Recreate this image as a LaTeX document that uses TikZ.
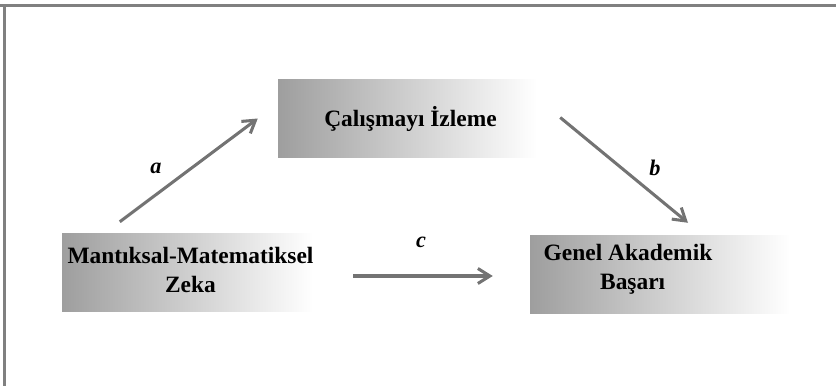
\documentclass[tikz,border=0pt]{standalone}
\usepackage{fontspec}
\setmainfont{Liberation Serif}
\usetikzlibrary{arrows.meta,calc}

\begin{document}
\begin{tikzpicture}[x=0.03cm,y=-0.03cm,
	box/.style={shade,left color=black!38,right color=white,draw=none,
		minimum width=#1*0.03cm,minimum height=78*0.03cm,inner sep=0pt},
	boxtext/.style={font=\fontsize{20}{25}\selectfont\bfseries,align=center},
	path/.style={draw=black!55,line width=2.6pt,
		-{Straight Barb[length=0.36cm,width=0.45cm,line width=2.6pt]}},
	coef/.style={font=\fontsize{19}{22}\selectfont\bfseries\itshape}]
	 \useasboundingbox (0,0) rectangle (836,386);
	 %frame
	 \draw[black!50,line width=2.4pt] (0,5.5) -- (836,5.5);
	 \draw[black!50,line width=2.4pt] (4.5,4) -- (4.5,386);
	 
	 %boxes
	 \node[box=251] (zeka) at (187.5,272) {};
	 \node[box=259] (izleme) at (407.5,118.5) {};
	 \node[box=260] (basari) at (660,274) {};
	 
	 \node[boxtext] (zekatext) at ($(zeka.center)+(3,-2)$) {Mantıksal-Matematiksel\\Zeka};
	 \node[boxtext] (izlemetext) at ($(izleme.center)+(3,0)$) {Çalışmayı İzleme};
	 \node[boxtext] (basaritext) at ($(basari.center)+(-32,-5)$) {Genel Akademik\\\hspace*{8pt}Başarı};
	 
	 %paths
	 \draw[path] ([shift={(58,-11)}]zeka.north west) -- ([shift={(-20,0)}]izleme.west);
	 \draw[path] ([shift={(23,-1)}]izleme.east) -- ([shift={(28,-12)}]basari.north);
	 \draw[path] ([shift={(40,4)}]zeka.east) -- ([shift={(-37,2)}]basari.west);
	 
	 \node[coef] (a) at (156,168) {a};
	 \node[coef] (b) at (655,168) {b};
	 \node[coef] (c) at (421,242) {c};
\end{tikzpicture}
\end{document}
